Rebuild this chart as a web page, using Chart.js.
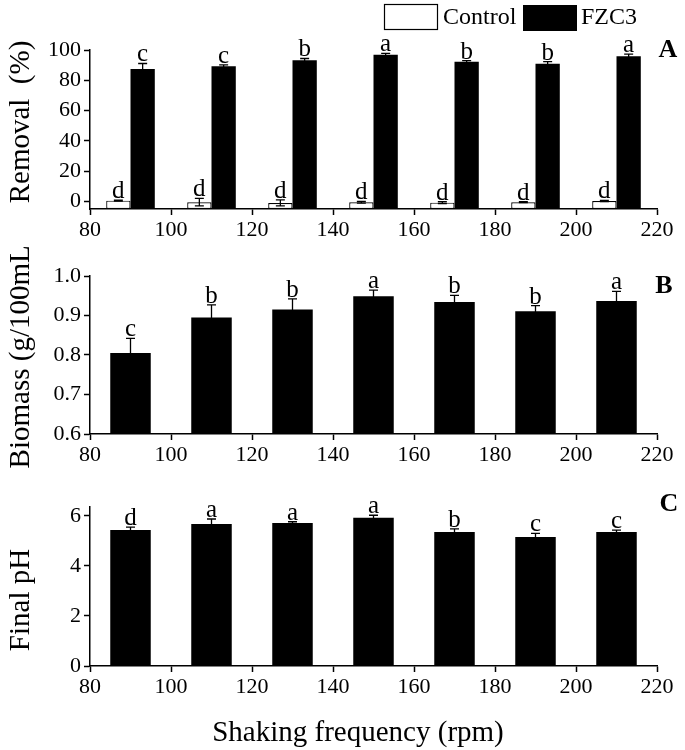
<!DOCTYPE html>
<html><head><meta charset="utf-8">
<script src="https://cdn.jsdelivr.net/npm/chart.js@4.4.1/dist/chart.umd.min.js"></script>
<style>
html,body{margin:0;padding:0;background:#fff;width:685px;height:750px;overflow:hidden}
canvas{position:absolute;left:0}
</style></head><body>
<canvas id="cA" width="685" height="245" style="top:0px"></canvas>
<canvas id="cB" width="685" height="230" style="top:245px"></canvas>
<canvas id="cC" width="685" height="275" style="top:475px"></canvas>
<script>
// ---- data ----
const frequencies = [90, 110, 130, 150, 170, 190, 210];
const xTicks = [80, 100, 120, 140, 160, 180, 200, 220];

const removalControl = [0.5, -0.5, -1.0, -0.5, -0.8, -0.5, 0.3];
const removalControlErr = [0.3, 2.5, 2.0, 0.6, 0.6, 0.3, 0.4];
const removalControlLetters = ['d', 'd', 'd', 'd', 'd', 'd', 'd'];
const removalFZC3 = [87.4, 89.2, 93.2, 96.8, 92.3, 91.0, 95.8];
const removalFZC3Err = [3.7, 1.0, 1.2, 1.0, 0.7, 1.3, 1.5];
const removalFZC3Letters = ['c', 'c', 'b', 'a', 'b', 'b', 'a'];
const removalTicks = [0, 20, 40, 60, 80, 100];

const biomass = [0.805, 0.895, 0.915, 0.949, 0.934, 0.911, 0.937];
const biomassErr = [0.037, 0.032, 0.027, 0.015, 0.017, 0.014, 0.024];
const biomassLetters = ['c', 'b', 'b', 'a', 'b', 'b', 'a'];
const biomassTicks = [0.6, 0.7, 0.8, 0.9, 1.0];

const finalPH = [5.43, 5.67, 5.71, 5.92, 5.35, 5.15, 5.35];
const finalPHErr = [0.12, 0.2, 0.05, 0.1, 0.13, 0.15, 0.08];
const finalPHLetters = ['d', 'a', 'a', 'a', 'b', 'c', 'c'];
const phTicks = [0, 2, 4, 6];

const legendLabels = ['Control', 'FZC3'];

// ---- drawing ----
const SERIF = '"Liberation Serif", "Times New Roman", serif';
Chart.defaults.font.family = SERIF;
Chart.defaults.color = '#000';

function pts(vals) { return frequencies.map((f, i) => ({ x: f, y: vals[i] })); }

const barExtras = {
  id: 'barExtras',
  afterDatasetsDraw(chart) {
    const ctx = chart.ctx, ys = chart.scales.y;
    chart.data.datasets.forEach((ds, di) => {
      const meta = chart.getDatasetMeta(di);
      meta.data.forEach((el, i) => {
        const v = ds.data[i].y, e = ds.errors[i];
        const yt = ys.getPixelForValue(v + e), yb = ys.getPixelForValue(v - e);
        const cap = 4.5;
        ctx.save();
        ctx.strokeStyle = '#000'; ctx.lineWidth = 1.3;
        ctx.beginPath();
        ctx.moveTo(el.x, yt); ctx.lineTo(el.x, yb);
        ctx.moveTo(el.x - cap, yt); ctx.lineTo(el.x + cap, yt);
        ctx.moveTo(el.x - cap, yb); ctx.lineTo(el.x + cap, yb);
        ctx.stroke();
        ctx.fillStyle = '#000';
        ctx.font = '25px ' + SERIF;
        ctx.textAlign = 'center'; ctx.textBaseline = 'alphabetic';
        ctx.fillText(ds.letters[i], el.x, yt - 2);
        ctx.restore();
      });
    });
  }
};

function panelLetter(letter, x, y) {
  return {
    id: 'panelLetter' + letter,
    afterDraw(chart) {
      const ctx = chart.ctx;
      ctx.save();
      ctx.fillStyle = '#000';
      ctx.font = 'bold 26px ' + SERIF;
      ctx.textAlign = 'center'; ctx.textBaseline = 'middle';
      ctx.fillText(letter, x, y);
      ctx.restore();
    }
  };
}

// axis titles placed by hand (text, centre x, centre y, rotated?)
function axisTitle(text, x, y, rotated, size) {
  return {
    id: 'axisTitle' + text.replace(/\W/g, ''),
    afterDraw(chart) {
      const ctx = chart.ctx;
      ctx.save();
      ctx.fillStyle = '#000';
      ctx.font = size + 'px ' + SERIF;
      ctx.textAlign = 'center'; ctx.textBaseline = 'middle';
      ctx.translate(x, y);
      if (rotated) ctx.rotate(-Math.PI / 2);
      ctx.fillText(text, 0, 0);
      ctx.restore();
    }
  };
}

const legendPlugin = {
  id: 'customLegend',
  afterDraw(chart) {
    const ctx = chart.ctx;
    ctx.save();
    ctx.lineWidth = 1.2; ctx.strokeStyle = '#000';
    ctx.fillStyle = '#fff';
    ctx.fillRect(384, 4.5, 53, 25); ctx.strokeRect(384.5, 4.5, 53, 25);
    ctx.fillStyle = '#000';
    ctx.fillRect(523, 5, 54, 26);
    ctx.font = '24px ' + SERIF;
    ctx.textAlign = 'left'; ctx.textBaseline = 'middle';
    ctx.fillText(legendLabels[0], 443, 18);
    ctx.fillText(legendLabels[1], 581, 18);
    ctx.restore();
  }
};

function axisCommon() {
  return {
    grid: { display: true, drawOnChartArea: false, drawTicks: true, tickLength: 6, tickWidth: 1.5, tickColor: '#000', offset: false },
    border: { display: true, color: '#000', width: 1.5 },
  };
}

function makeOptions(cfg) {
  const xs = Object.assign(axisCommon(), {
    type: 'linear', min: 80, max: 220, offset: false,
    ticks: { color: '#000', font: { size: 22 }, padding: 2, maxRotation: 0, autoSkip: false },
    afterBuildTicks: s => { s.ticks = xTicks.map(v => ({ value: v })); },
    afterFit: s => { s.height = cfg.xHeight; },
    title: { display: false }
  });
  const ys = Object.assign(axisCommon(), {
    type: 'linear', min: cfg.yMin, max: cfg.yMax,
    ticks: { color: '#000', font: { size: 22 }, padding: 3, callback: cfg.fmt },
    afterBuildTicks: s => { s.ticks = cfg.yTicks.map(v => ({ value: v })); },
    afterFit: s => { s.width = 90; },
    title: { display: false }
  });
  return {
    responsive: false, animation: false, devicePixelRatio: 1,
    layout: { padding: { top: cfg.padTop, right: 28, left: 0, bottom: 0 } },
    plugins: { legend: { display: false }, tooltip: { enabled: false } },
    scales: { x: xs, y: ys }
  };
}

new Chart(document.getElementById('cA'), {
  type: 'bar',
  data: {
    datasets: [
      { label: legendLabels[0], data: pts(removalControl), errors: removalControlErr, letters: removalControlLetters,
        backgroundColor: '#fff', borderColor: '#000', borderWidth: 1.2, borderSkipped: false, base: -5,
        categoryPercentage: 0.6, barPercentage: 1.0 },
      { label: legendLabels[1], data: pts(removalFZC3), errors: removalFZC3Err, letters: removalFZC3Letters,
        backgroundColor: '#000', borderColor: '#000', borderWidth: 0, base: -5,
        categoryPercentage: 0.6, barPercentage: 1.0 }
    ]
  },
  options: makeOptions({ padTop: 50, xHeight: 36, yMin: -5, yMax: 100, yTicks: removalTicks, fmt: v => String(v) }),
  plugins: [barExtras, legendPlugin, panelLetter('A', 668, 50), axisTitle('Removal  (%)', 21, 122, true, 29)]
});

new Chart(document.getElementById('cB'), {
  type: 'bar',
  data: {
    datasets: [
      { label: 'FZC3', data: pts(biomass), errors: biomassErr, letters: biomassLetters,
        backgroundColor: '#000', borderColor: '#000', borderWidth: 0,
        categoryPercentage: 0.5, barPercentage: 1.0 }
    ]
  },
  options: makeOptions({ padTop: 31, xHeight: 41, yMin: 0.6, yMax: 1.0, yTicks: biomassTicks, fmt: v => Number(v).toFixed(1) }),
  plugins: [barExtras, panelLetter('B', 664, 41), axisTitle('Biomass (g/100mL)', 21, 107, true, 29)]
});

new Chart(document.getElementById('cC'), {
  type: 'bar',
  data: {
    datasets: [
      { label: 'FZC3', data: pts(finalPH), errors: finalPHErr, letters: finalPHLetters,
        backgroundColor: '#000', borderColor: '#000', borderWidth: 0,
        categoryPercentage: 0.5, barPercentage: 1.0 }
    ]
  },
  options: makeOptions({ padTop: 32, xHeight: 84, yMin: 0, yMax: 6.35, yTicks: phTicks, fmt: v => String(v) }),
  plugins: [barExtras, panelLetter('C', 669, 29), axisTitle('Final pH', 21, 125, true, 29),
            axisTitle('Shaking frequency (rpm)', 358, 258, false, 29)]
});
</script>
</body></html>
